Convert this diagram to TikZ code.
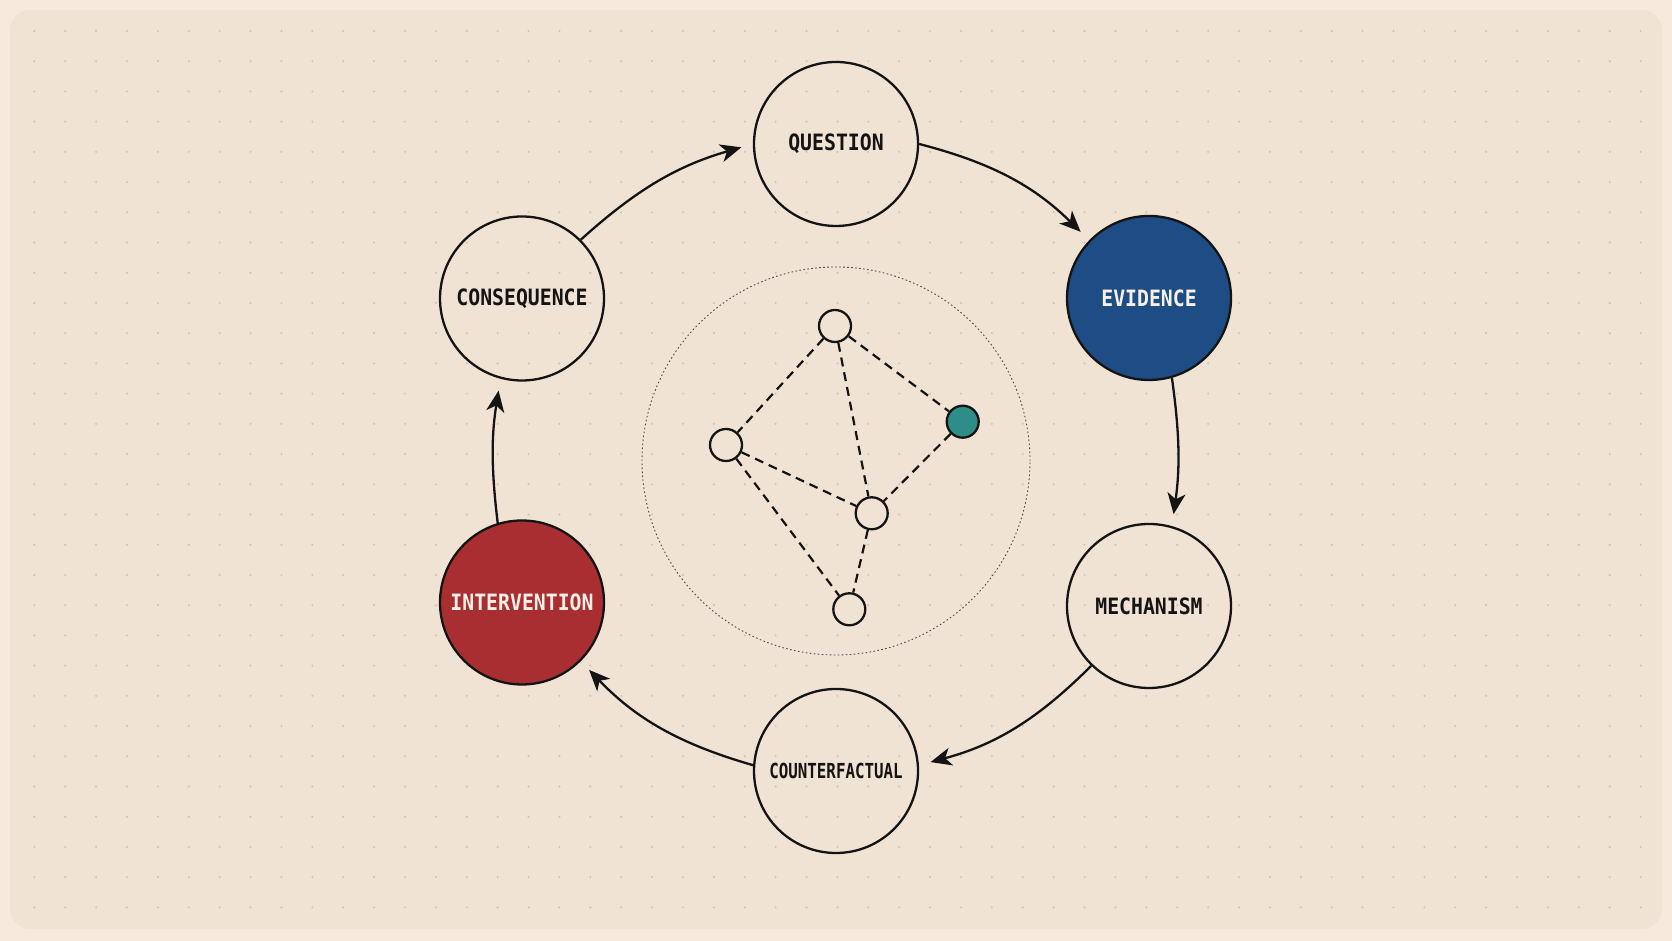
\documentclass[tikz,border=0pt]{standalone}
\usepackage{fontspec}
\usepackage{graphicx}
\usetikzlibrary{arrows.meta}
\newfontfamily\labelfont[FakeStretch=0.88]{DejaVu Sans Mono}
\definecolor{outerbg}{HTML}{F6EADD}
\definecolor{innerbg}{HTML}{F0E3D4}
\definecolor{gridDot}{HTML}{D0C2B3}
\definecolor{ink}{HTML}{141414}
\definecolor{evblue}{HTML}{1D4D84}
\definecolor{intred}{HTML}{A92E32}
\definecolor{tealnode}{HTML}{2E8D89}
\definecolor{paletext}{HTML}{F6F0E6}
\tikzset{
  stage/.style={circle, draw=ink, line width=2.3pt, minimum size=164pt, inner sep=0pt,
    text=ink, font={\labelfont\bfseries\fontsize{22.5pt}{24pt}\selectfont}},
  flow/.style={draw=ink, line width=2.3pt, -{Stealth[length=21pt,width=18pt,inset=6pt]}, shorten >=12pt},
  gnode/.style={circle, draw=ink, line width=2.3pt, minimum size=32pt, inner sep=0pt, fill=innerbg},
  gedge/.style={draw=ink, line width=2.2pt, dash pattern=on 9pt off 6pt},
  halo/.style={draw=ink!75, line width=0.9pt, dash pattern=on 1.6pt off 2.4pt}
}
\begin{document}
\begin{tikzpicture}[x=1pt,y=1pt]
\useasboundingbox (0,0) rectangle (1672,941);
% background
\fill[outerbg] (0,0) rectangle (1672,941);
\fill[innerbg, rounded corners=20pt] (10,12) rectangle (1662,931);
\foreach \i in {0,...,52}{
  \foreach \j in {0,...,29}{
    \fill[gridDot] (34.3+30.89*\i, 910-30.22*\j) circle (1.1pt);
  }
}
% halo
\coordinate (hc) at (836,480);
\draw[halo] (hc) circle (194);
% stages
\node[stage] (Q) at (836,797) {QUESTION};
\node[stage, fill=evblue, text=paletext] (E) at (1149,643) {EVIDENCE};
\node[stage] (M) at (1149,335) {MECHANISM};
\node[stage] (CF) at (836,170) {\scalebox{0.8}[0.92]{COUNTERFACTUAL}};
\node[stage, fill=intred, text=paletext] (I) at (522,338.5) {INTERVENTION};
\node[stage] (C) at (522,642.5) {CONSEQUENCE};
% flow arrows
\draw[flow] (C.45) to[bend left=13] (Q.180);
\draw[flow] (Q.0) to[bend left=15] (E.136);
\draw[flow] (E.-74) to[bend left=8] (M.74);
\draw[flow] (M.-134) to[bend left=15] (CF.4);
\draw[flow] (CF.176) to[bend left=15] (I.-45);
\draw[flow] (I.107) to[bend left=8] (C.-105);
% inner graph
\node[gnode] (g1) at (835,615) {};
\node[gnode] (g2) at (726,496) {};
\node[gnode, fill=tealnode] (g3) at (962.7,519.3) {};
\node[gnode] (g4) at (871.7,427.7) {};
\node[gnode] (g5) at (849.3,331.7) {};
\draw[gedge] (g1) -- (g2);
\draw[gedge] (g1) -- (g4);
\draw[gedge] (g1) -- (g3);
\draw[gedge] (g2) -- (g4);
\draw[gedge] (g2) -- (g5);
\draw[gedge] (g3) -- (g4);
\draw[gedge] (g4) -- (g5);
\end{tikzpicture}
\end{document}
